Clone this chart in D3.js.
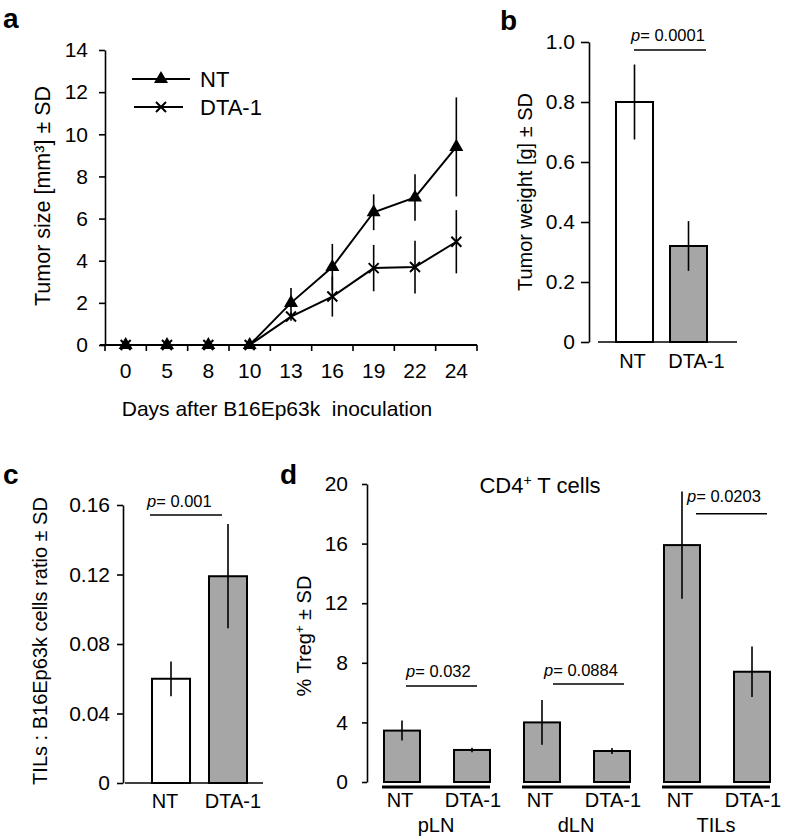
<!DOCTYPE html>
<html><head><meta charset="utf-8">
<script src="https://cdn.jsdelivr.net/npm/d3@7"></script>
<style>
body{margin:0;background:#fff;}
svg{font-family:"Liberation Sans",Arial,sans-serif;}
</style></head>
<body><svg id="c" width="786" height="840"></svg>
<script>
// ---------- DATA ----------
const days = ["0","5","8","10","13","16","19","22","24"];
const ntSize = [0,0,0,0,2.0,3.7,6.3,7.0,9.4];
const ntSizeSD = [0,0,0,0,0.7,1.1,0.85,1.1,2.35];
const dtaSize = [0,0,0,0,1.35,2.3,3.65,3.7,4.9];
const dtaSizeSD = [0,0,0,0,0.2,0.95,1.1,1.25,1.5];
const sizeTicks = [0,2,4,6,8,10,12,14];

const treatments = ["NT","DTA-1"];
const weightMean = [0.80,0.32];
const weightSD = [0.125,0.083];
const weightTicks = [0,0.2,0.4,0.6,0.8,1.0];
const weightP = "0.0001";

const ratioMean = [0.060,0.119];
const ratioSD = [0.010,0.030];
const ratioTicks = [0,0.04,0.08,0.12,0.16];
const ratioP = "0.001";

const tissues = ["pLN","dLN","TILs"];
const tregNT = [3.45,4.0,15.9];
const tregNTSD = [0.67,1.5,3.6];
const tregDTA = [2.15,2.08,7.4];
const tregDTASD = [0.15,0.2,1.7];
const tregTicks = [0,4,8,12,16,20];
const tregP = ["0.032","0.0884","0.0203"];

// ---------- HELPERS ----------
const svg = d3.select("#c");
const GRAY = "#a6a6a6";
const FS = 21;     // tick labels
const LS = 20;     // category labels / titles

function pText(g, x, y, val){
  const t = g.append("text").attr("x",x).attr("y",y).attr("font-size",16.5);
  t.append("tspan").attr("font-style","italic").text("p");
  t.append("tspan").text("= "+val);
}
function panelLabel(x,y,t){
  svg.append("text").attr("x",x).attr("y",y).attr("font-size",28).attr("font-weight","bold").text(t);
}
function styleAxis(g, size){
  g.selectAll("path,line").attr("stroke","#000").attr("stroke-width",1.6);
  g.selectAll("text").attr("font-size",size||FS).attr("fill","#000");
  g.attr("font-family",null);
}

// ---------- PANEL A ----------
{
  const g = svg.append("g");
  const x = d3.scaleBand().domain(days).range([105,477]);
  const y = d3.scaleLinear().domain([0,14]).range([345,50]);
  const ya = g.append("g").attr("transform","translate(105,0)")
    .call(d3.axisLeft(y).tickValues(sizeTicks).tickSize(6).tickPadding(11).tickSizeOuter(0));
  styleAxis(ya);
  // x axis
  g.append("line").attr("x1",100).attr("x2",x.range()[1]).attr("y1",y(0)).attr("y2",y(0))
    .attr("stroke","#000").attr("stroke-width",1.8);
  const bounds = days.map(d=>x(d)).concat([x.range()[1]]);
  g.selectAll(".xt").data(bounds).join("line")
    .attr("x1",d=>d).attr("x2",d=>d).attr("y1",y(0)).attr("y2",y(0)+6)
    .attr("stroke","#000").attr("stroke-width",1.6);
  g.selectAll(".xl").data(days).join("text")
    .attr("x",d=>x(d)+x.bandwidth()/2).attr("y",378).attr("text-anchor","middle")
    .attr("font-size",FS).text(d=>d);
  g.append("text").attr("x",277).attr("y",416).attr("text-anchor","middle")
    .attr("font-size",21).attr("xml:space","preserve").text("Days after B16Ep63k  inoculation");
  g.append("text").attr("transform","translate(50,196) rotate(-90)").attr("text-anchor","middle")
    .attr("font-size",21.5).text("Tumor size [mm³] ± SD");

  const cx = i=>x(days[i])+x.bandwidth()/2;
  const series = [
    {m:ntSize, sd:ntSizeSD, type:"tri"},
    {m:dtaSize, sd:dtaSizeSD, type:"x"}
  ];
  series.forEach(s=>{
    g.selectAll(null).data(s.m.map((v,i)=>({v,sd:s.sd[i],i})).filter(d=>d.sd>0)).join("line")
      .attr("x1",d=>cx(d.i)).attr("x2",d=>cx(d.i))
      .attr("y1",d=>y(d.v-d.sd)).attr("y2",d=>y(d.v+d.sd))
      .attr("stroke","#000").attr("stroke-width",1.6);
  });
  series.forEach(s=>{
    const line = d3.line().x((d,i)=>cx(i)).y(d=>y(d));
    g.append("path").attr("d",line(s.m)).attr("fill","none").attr("stroke","#000").attr("stroke-width",2);
    if(s.type==="tri"){
      g.selectAll(null).data(s.m).join("path")
        .attr("transform",(d,i)=>`translate(${cx(i)},${y(d)})`)
        .attr("d",d3.symbol().type(d3.symbolTriangle).size(85)());
    } else {
      g.selectAll(null).data(s.m).join("path")
        .attr("d",(d,i)=>{const X=cx(i),Y=y(d),r=5;return `M${X-r},${Y-r}L${X+r},${Y+r}M${X+r},${Y-r}L${X-r},${Y+r}`;})
        .attr("stroke","#000").attr("stroke-width",2);
    }
  });
  // legend
  const lg = g.append("g");
  lg.append("line").attr("x1",132).attr("x2",190).attr("y1",79).attr("y2",79).attr("stroke","#000").attr("stroke-width",2);
  lg.append("path").attr("transform","translate(161,79)").attr("d",d3.symbol().type(d3.symbolTriangle).size(85)());
  lg.append("text").attr("x",200).attr("y",87).attr("font-size",22).text(treatments[0]);
  lg.append("line").attr("x1",134).attr("x2",183).attr("y1",107).attr("y2",107).attr("stroke","#000").attr("stroke-width",2);
  lg.append("path").attr("d","M156,102L166,112M166,102L156,112").attr("stroke","#000").attr("stroke-width",2);
  lg.append("text").attr("x",200).attr("y",115).attr("font-size",22).text(treatments[1]);
  panelLabel(3,28,"a");
}

// ---------- simple two-bar panel ----------
function twoBar(opt){
  const g = svg.append("g");
  const y = d3.scaleLinear().domain(opt.domain).range([opt.y0,opt.y1]);
  const x = d3.scaleBand().domain(treatments).range(opt.barRange).paddingInner(opt.pad);
  const ya = g.append("g").attr("transform",`translate(${opt.ax},0)`)
    .call(d3.axisLeft(y).tickValues(opt.ticks).tickFormat(opt.fmt).tickSize(opt.ts).tickPadding(opt.tp).tickSizeOuter(0));
  styleAxis(ya);
  g.append("line").attr("x1",opt.base[0]).attr("x2",opt.base[1]).attr("y1",y(0)).attr("y2",y(0))
    .attr("stroke","#000").attr("stroke-width",1.6);
  g.selectAll(null).data(treatments).join("rect")
    .attr("x",d=>x(d)).attr("width",x.bandwidth())
    .attr("y",(d,i)=>y(opt.mean[i])).attr("height",(d,i)=>y(0)-y(opt.mean[i]))
    .attr("fill",(d,i)=>i===0?"#fff":GRAY).attr("stroke","#000").attr("stroke-width",2);
  g.selectAll(null).data(treatments).join("line")
    .attr("x1",d=>x(d)+x.bandwidth()/2).attr("x2",d=>x(d)+x.bandwidth()/2)
    .attr("y1",(d,i)=>y(opt.mean[i]-opt.sd[i])).attr("y2",(d,i)=>y(opt.mean[i]+opt.sd[i]))
    .attr("stroke","#000").attr("stroke-width",1.6);
  g.selectAll(null).data(treatments).join("text")
    .attr("x",(d,i)=>x(d)+x.bandwidth()/2+opt.lblOff[i]).attr("y",opt.lblY).attr("text-anchor","middle")
    .attr("font-size",LS).text(d=>d);
  g.append("text").attr("transform",`translate(${opt.titleX},${opt.titleY}) rotate(-90)`)
    .attr("text-anchor","middle").attr("font-size",LS).text(opt.title);
  g.append("line").attr("x1",opt.pLine[0]).attr("x2",opt.pLine[1]).attr("y1",opt.pLine[2]).attr("y2",opt.pLine[2])
    .attr("stroke","#000").attr("stroke-width",1.6);
  pText(g,opt.pText[0],opt.pText[1],opt.p);
}

twoBar({domain:[0,1],y0:342,y1:42,barRange:[616,707],pad:0.315,ax:589,ticks:weightTicks,
  fmt:d=>d===0?"0":d3.format(".1f")(d),ts:8,tp:6,base:[598,737],mean:weightMean,sd:weightSD,
  lblOff:[-2,8],lblY:368,title:"Tumor weight [g] ± SD",titleX:532,titleY:192,
  pLine:[634,706,50],pText:[631,41],p:weightP});
panelLabel(500,30,"b");

twoBar({domain:[0,0.16],y0:783,y1:505,barRange:[152,247],pad:0.333,ax:123,ticks:ratioTicks,
  fmt:d=>d===0?"0":d3.format(".2f")(d),ts:6,tp:7,base:[125,263],mean:ratioMean,sd:ratioSD,
  lblOff:[-6,5],lblY:808,title:"TILs : B16Ep63k cells ratio ± SD",titleX:47,titleY:641,
  pLine:[150,222,515],pText:[147,507],p:ratioP});
panelLabel(3,484,"c");

// ---------- PANEL D ----------
{
  const g = svg.append("g");
  const y = d3.scaleLinear().domain([0,20]).range([782,484]);
  const gx = d3.scaleBand().domain(tissues).range([384,804]);
  const ix = d3.scaleBand().domain(treatments).range([0,106]).paddingInner(0.486);
  const ya = g.append("g").attr("transform","translate(367,0)")
    .call(d3.axisLeft(y).tickValues(tregTicks).tickSize(5).tickPadding(14).tickSizeOuter(0));
  styleAxis(ya);
  const rows = [];
  tissues.forEach((t,k)=>{
    rows.push({t,tr:"NT",v:tregNT[k],sd:tregNTSD[k]});
    rows.push({t,tr:"DTA-1",v:tregDTA[k],sd:tregDTASD[k]});
  });
  const bx = d=>gx(d.t)+ix(d.tr);
  g.selectAll(null).data(rows).join("rect")
    .attr("x",bx).attr("width",ix.bandwidth()).attr("y",d=>y(d.v)).attr("height",d=>y(0)-y(d.v))
    .attr("fill",GRAY).attr("stroke","#000").attr("stroke-width",2);
  g.selectAll(null).data(rows).join("line")
    .attr("x1",d=>bx(d)+ix.bandwidth()/2).attr("x2",d=>bx(d)+ix.bandwidth()/2)
    .attr("y1",d=>y(d.v-d.sd)).attr("y2",d=>y(d.v+d.sd)).attr("stroke","#000").attr("stroke-width",1.6);
  g.selectAll(null).data(tissues).join("line")
    .attr("x1",d=>gx(d)-2).attr("x2",d=>gx(d)+106).attr("y1",y(0)+5).attr("y2",y(0)+5)
    .attr("stroke","#000").attr("stroke-width",3);
  g.selectAll(null).data(rows).join("text")
    .attr("x",d=>bx(d)+ix.bandwidth()/2+(d.tr==="NT"?-2:1)).attr("y",807).attr("text-anchor","middle")
    .attr("font-size",LS).text(d=>d.tr);
  g.selectAll(null).data(tissues).join("text")
    .attr("x",d=>gx(d)+52).attr("y",832).attr("text-anchor","middle").attr("font-size",LS).text(d=>d);
  const tt = g.append("text").attr("x",540).attr("y",493).attr("text-anchor","middle").attr("font-size",22);
  tt.append("tspan").text("CD4");
  tt.append("tspan").attr("font-size",14).attr("dy",-8).text("+");
  tt.append("tspan").attr("dy",8).text(" T cells");
  const yt = g.append("text").attr("transform","translate(311,636) rotate(-90)").attr("text-anchor","middle").attr("font-size",LS);
  yt.append("tspan").text("% Treg");
  yt.append("tspan").attr("font-size",13).attr("dy",-7).text("+");
  yt.append("tspan").attr("dy",7).text(" ± SD");
  const pOff = [[22,93,6.44,0,677],[29,100,6.58,-9,676],[32,103,18.0,-9,502]];
  tissues.forEach((t,k)=>{
    const o = pOff[k];
    g.append("line").attr("x1",gx(t)+o[0]).attr("x2",gx(t)+o[1]).attr("y1",y(o[2])).attr("y2",y(o[2]))
      .attr("stroke","#000").attr("stroke-width",1.6);
    pText(g,gx(t)+o[0]+o[3],o[4],tregP[k]);
  });
  panelLabel(280,484,"d");
}
</script></body></html>
